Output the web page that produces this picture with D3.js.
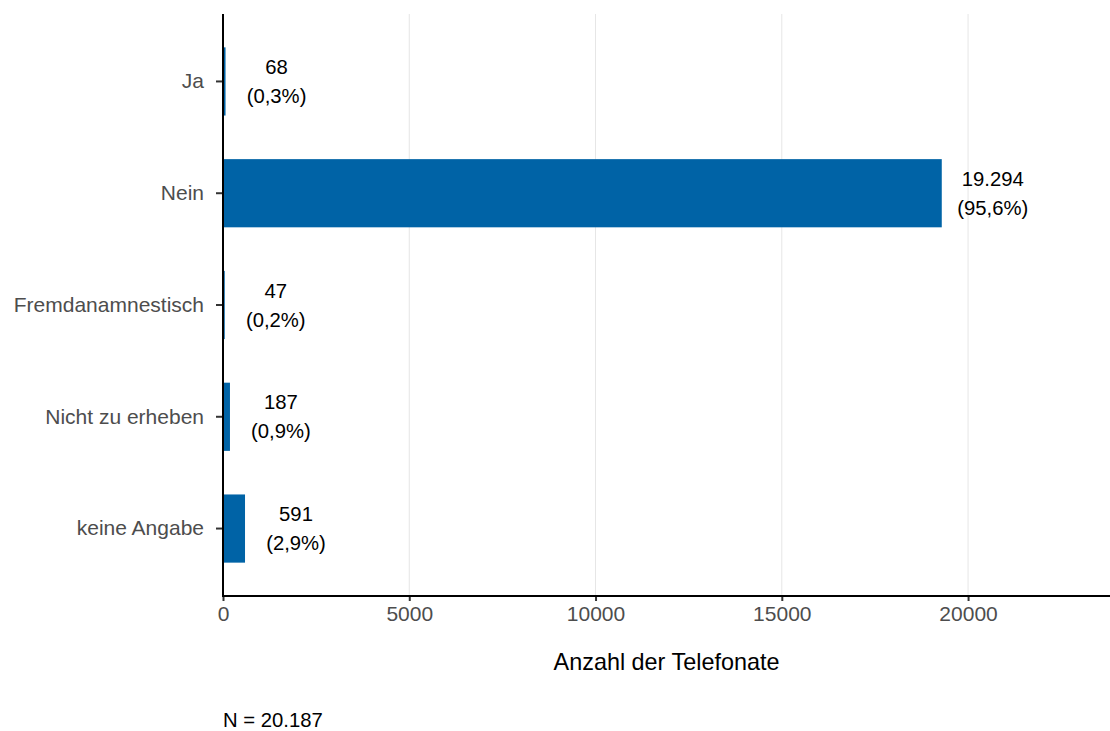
<!DOCTYPE html>
<html><head><meta charset="utf-8">
<script src="https://cdn.jsdelivr.net/npm/d3@7"></script>
<style>body{margin:0;background:#fff}svg{display:block;font-family:"Liberation Sans",Arial,sans-serif}</style>
</head><body><svg id="c" width="1110" height="731"></svg>
<script>
const categories = ["Ja","Nein","Fremdanamnestisch","Nicht zu erheben","keine Angabe"];
const counts = [68,19294,47,187,591];
const countLabels = ["68","19.294","47","187","591"];
const pctLabels = ["(0,3%)","(95,6%)","(0,2%)","(0,9%)","(2,9%)"];
const xTicks = [0,5000,10000,15000,20000];
const xTitle = "Anzahl der Telefonate";
const note = "N = 20.187";

const svg = d3.select("#c");
const L = 223, R = 1110, T = 14, B = 596;
const FF = "Liberation Sans, Arial, sans-serif";
const x = d3.scaleLinear().domain([0,23810]).range([L,R]);
const y = d3.scaleBand().domain(categories).range([T+11,B-11]).paddingInner(0.39).paddingOuter(0.2);

// grid
svg.append("g").selectAll("line").data(xTicks.slice(1)).join("line")
  .attr("x1",d=>x(d)).attr("x2",d=>x(d)).attr("y1",T).attr("y2",B)
  .attr("stroke","#e6e6e6").attr("stroke-width",1);

// bars
svg.append("g").selectAll("rect").data(categories).join("rect")
  .attr("x",x(0)).attr("y",d=>y(d)).attr("height",y.bandwidth())
  .attr("width",(d,i)=>x(counts[i])-x(0)).attr("fill","#0063a6");

// labels
const lab = svg.append("g").selectAll("text").data(categories).join("text")
  .attr("text-anchor","middle").attr("font-size",20.3).attr("fill","#000");
lab.each(function(d,i){
  const t = d3.select(this), cx = x(counts[i])+51, cy = y(d)+y.bandwidth()/2;
  t.append("tspan").attr("x",cx).attr("y",cy-7.5).text(countLabels[i]);
  t.append("tspan").attr("x",cx).attr("y",cy+21.5).text(pctLabels[i]);
});

// y axis
const ya = svg.append("g").attr("transform",`translate(${L},0)`)
  .call(d3.axisLeft(y).tickSize(7).tickPadding(12));
ya.select(".domain").remove();
ya.selectAll(".tick line").attr("stroke","#333").attr("stroke-width",2);
ya.selectAll(".tick text").attr("font-size",21).attr("fill","#4d4d4d").attr("font-family",FF);
svg.append("line").attr("x1",L).attr("x2",L).attr("y1",T).attr("y2",B+1).attr("stroke","#000").attr("stroke-width",2);

// x axis
const xa = svg.append("g").attr("transform",`translate(0,${B})`)
  .call(d3.axisBottom(x).tickValues(xTicks).tickFormat(d3.format("d")).tickSize(5).tickPadding(5));
xa.select(".domain").remove();
xa.selectAll(".tick line").attr("stroke","#333").attr("stroke-width",2);
xa.selectAll(".tick text").attr("font-size",21).attr("fill","#4d4d4d").attr("font-family",FF);
svg.append("line").attr("x1",L-1).attr("x2",R).attr("y1",B).attr("y2",B).attr("stroke","#000").attr("stroke-width",2);

svg.append("text").attr("x",(L+R)/2).attr("y",670).attr("text-anchor","middle")
  .attr("font-size",23.4).attr("fill","#000").text(xTitle);
svg.append("text").attr("x",L).attr("y",726.5).attr("font-size",20.3).attr("fill","#000").text(note);
</script></body></html>
